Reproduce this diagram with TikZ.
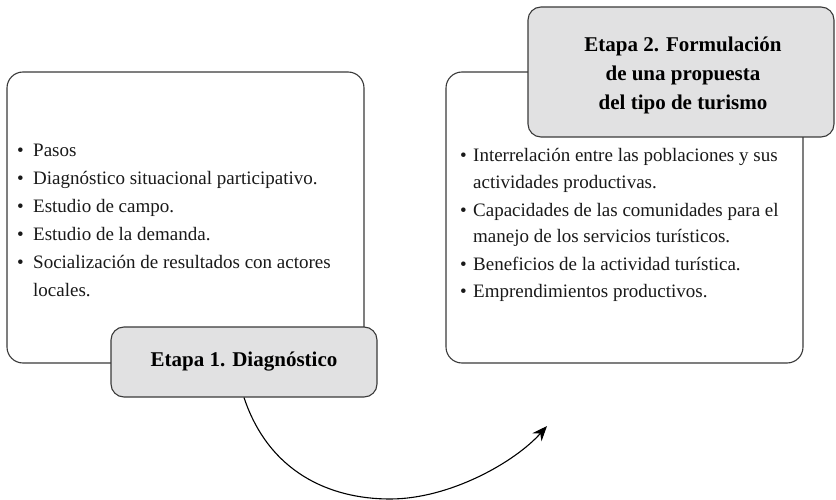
\documentclass[tikz,border=0pt]{standalone}
\usepackage{fontspec}
\setmainfont{Liberation Serif}
\usetikzlibrary{arrows.meta}
\definecolor{boxfill}{HTML}{E1E1E2}
\definecolor{edge}{HTML}{3A3A3A}
\tikzset{
  bigbox/.style={draw=edge, line width=1.1pt, rounded corners=16pt, fill=white, inner sep=0pt},
  stagebox/.style={draw=edge, line width=1.1pt, rounded corners=13pt, fill=boxfill, inner sep=0pt, font=\fontsize{21}{29}\selectfont\bfseries, align=center, text=black},
  itemtxt/.style={anchor=base west, inner sep=0pt, font=\fontsize{19}{27}\selectfont, text=black!90},
  flow/.style={draw=black, line width=1.1pt, -{Stealth[length=15pt,width=12pt]}}
}
\begin{document}
\begin{tikzpicture}[x=1pt,y=-1pt]
\useasboundingbox (0,0) rectangle (836,500);
% left box
\node[bigbox, minimum width=357pt, minimum height=291pt] (b1) at (185.5,217.5) {};
\foreach \t [count=\i] in {Pasos, Diagnóstico situacional participativo., Estudio de campo., Estudio de la demanda., Socialización de resultados con actores}
  \node[itemtxt] (l\i) at (17,{157+(\i-1)*27.8}) {\makebox[16pt][l]{\textbullet}\t};
\node[itemtxt] (l6) at (33,{157+5*27.8}) {locales.};
\node[stagebox, minimum width=266pt, minimum height=70pt] (s1) at (244,362) {Etapa 1. Diagnóstico};
% right box
\node[bigbox, minimum width=357pt, minimum height=291pt] (b2) at (624.5,217.5) {};
\node[itemtxt] (r1) at (460,162) {\makebox[13pt][l]{\textbullet}Interrelación entre las poblaciones y sus};
\node[itemtxt] (r2) at (473,189) {actividades productivas.};
\node[itemtxt] (r3) at (460,216) {\makebox[13pt][l]{\textbullet}Capacidades de las comunidades para el};
\node[itemtxt] (r4) at (473,243) {manejo de los servicios turísticos.};
\node[itemtxt] (r5) at (460,270) {\makebox[13pt][l]{\textbullet}Beneficios de la actividad turística.};
\node[itemtxt] (r6) at (460,297) {\makebox[13pt][l]{\textbullet}Emprendimientos productivos.};
\node[stagebox, minimum width=306pt, minimum height=130pt] (s2) at (681,72) {};
\node[font=\fontsize{21}{29}\selectfont\bfseries, align=center, inner sep=0pt] (s2t) at (683,75) {Etapa 2. Formulación\\de una propuesta\\del tipo de turismo};
% arrow
\coordinate (tip) at (547,426);
\draw[flow] (s1.south) .. controls ++(25,75) and (330,499) .. (390,499) .. controls (450,499) and (515,462) .. (tip);
\end{tikzpicture}
\end{document}
